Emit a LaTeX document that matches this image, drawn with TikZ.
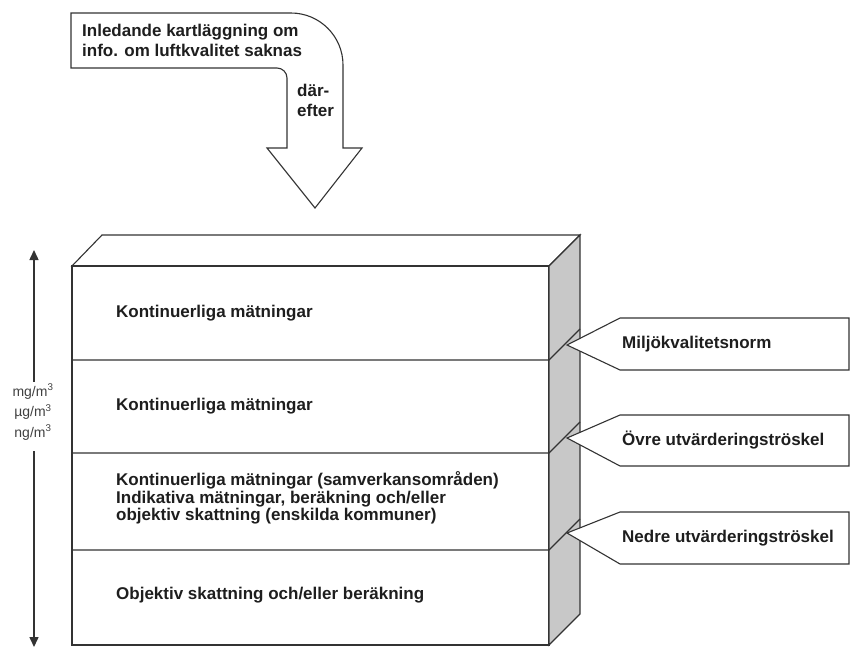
\documentclass[tikz,border=0pt]{standalone}
\usepackage{fontspec}
\setmainfont{Liberation Sans}
\usetikzlibrary{arrows.meta}
\definecolor{linegray}{HTML}{333333}
\definecolor{sidegray}{HTML}{C8C8C8}
\definecolor{textgray}{HTML}{1E1E1E}
\begin{document}
\begin{tikzpicture}[x=1pt, y=-1pt,
		boxline/.style={draw=linegray, line width=1.1pt, line join=miter},
		layertext/.style={anchor=west, inner sep=0pt, text=textgray, align=left, font=\bfseries\fontsize{17}{17.5}\selectfont},
		unittext/.style={inner sep=2pt, text=textgray!85, align=center, font=\fontsize{14}{20.5}\selectfont}]
		\useasboundingbox (0,0) rectangle (850,648);
		
		% bent arrow at the top
		\draw[boxline, fill=white] (71,13) -- (291,13) .. controls (319.7,13) and (343,36.3) .. (343,65) -- (343,148) -- (362,148) -- (315,208) -- (267,148) -- (287,148) -- (287,78) .. controls (287,72.5) and (282.5,68) .. (277,68) -- (71,68) -- cycle;
		\node[layertext, font=\bfseries\fontsize{17}{20}\selectfont] at (82,40) (start) {Inledande kartläggning om\\info. om luftkvalitet saknas};
		\node[layertext, font=\bfseries\fontsize{17}{20}\selectfont] at (297,100) (then) {där-\\efter};
		
		% the block
		\draw[boxline, fill=white] (72,266) -- (102,235) -- (580,235) -- (549,266) -- cycle;
		\draw[boxline, fill=white] (72,266) rectangle (549,645);
		\draw[boxline, fill=sidegray] (549,266) -- (580,235) -- (580,614) -- (549,645) -- cycle;
		\draw[boxline] (72,360) -- (549,360) -- (580,329) (72,453) -- (549,453) -- (580,422) (72,550) -- (549,550) -- (580,519);
		
		\node[layertext] at (116,313) (layerA) {Kontinuerliga mätningar};
		\node[layertext] at (116,406) (layerB) {Kontinuerliga mätningar};
		\node[layertext] at (116,498) (layerC) {Kontinuerliga mätningar (samverkansområden)\\Indikativa mätningar, beräkning och/eller\\objektiv skattning (enskilda kommuner)};
		\node[layertext] at (116,595) (layerD) {Objektiv skattning och/eller beräkning};
		
		% threshold callouts
		\draw[boxline, fill=white] (849,318) -- (620,318) -- (567,345) -- (620,370) -- (849,370) -- cycle;
		\draw[boxline, fill=white] (849,415) -- (620,415) -- (567,438) -- (620,466) -- (849,466) -- cycle;
		\draw[boxline, fill=white] (849,512) -- (620,512) -- (567,533) -- (620,564) -- (849,564) -- cycle;
		\node[layertext] at (622,344) (norm) {Miljökvalitetsnorm};
		\node[layertext] at (622,440) (upper) {Övre utvärderingströskel};
		\node[layertext] at (622,538) (lower) {Nedre utvärderingströskel};
		
		% concentration axis
		\node[unittext] at (33,412) (units) {mg/m\textsuperscript{3}\\µg/m\textsuperscript{3}\\ng/m\textsuperscript{3}};
		\coordinate (axistop) at (34,250);
		\coordinate (axisbottom) at (34,647);
		\draw[boxline, line width=1.5pt, -{Triangle[length=10pt, width=9pt]}] (units.north -| axistop) -- (axistop);
		\draw[boxline, line width=1.5pt, -{Triangle[length=10pt, width=9pt]}, shorten <=9pt] (units.south -| axisbottom) -- (axisbottom);
	\end{tikzpicture}
\end{document}
